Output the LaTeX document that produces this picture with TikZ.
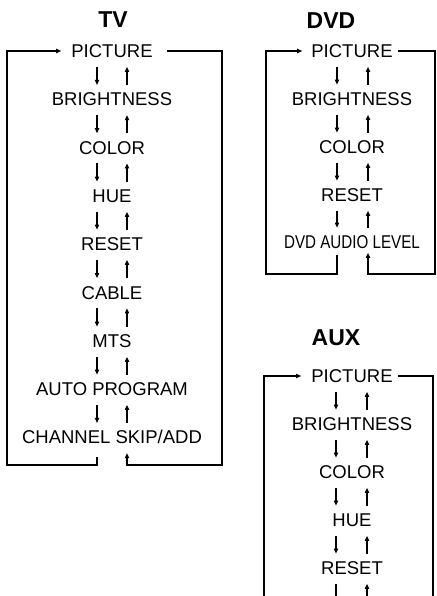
\documentclass[tikz,border=0pt]{standalone}
\usepackage{fontspec}
\setmainfont{Liberation Sans}
\usepackage{graphicx}
\usetikzlibrary{arrows.meta,calc}
\tikzset{
  item/.style={font=\fontsize{18.5}{20}\selectfont, inner sep=0pt, text height=13.3pt, text depth=0pt, anchor=center},
  ttl/.style={font=\fontsize{23}{24}\bfseries\selectfont, inner sep=0pt, text height=16.5pt, text depth=0pt, anchor=center},
  ln/.style={line width=1.1pt, line join=miter},
  arr/.style={ln, -{Triangle[length=5pt,width=4.2pt]}},
}
\begin{document}
\begin{tikzpicture}[x=1pt,y=-1pt]
\useasboundingbox (0,0) rectangle (436,596);
% ---------- TV ----------
\node[ttl] (tvT) at (113,19) {TV};
\node[item] (t1) at (112,51) {PICTURE};
\node[item] (t2) at (112,99.3) {BRIGHTNESS};
\node[item] (t3) at (112,147.6) {COLOR};
\node[item] (t4) at (112,196) {HUE};
\node[item] (t5) at (112,244) {RESET};
\node[item] (t6) at (112,292.5) {CABLE};
\node[item] (t7) at (112,341) {MTS};
\node[item] (t8) at (112,389) {AUTO PROGRAM};
\node[item] (t9) at (112,437.3) {CHANNEL SKIP/ADD};
\foreach \a/\b in {t1/t2,t2/t3,t3/t4,t4/t5,t5/t6,t6/t7,t7/t8,t8/t9}{
  \draw[arr, shorten <=9pt, shorten >=7.5pt] ($(\a.south)+(-15,0)$) -- ($(\b.north)+(-15,0)$);
  \draw[arr, shorten <=7.5pt, shorten >=9pt] ($(\b.north)+(15,0)$) -- ($(\a.south)+(15,0)$);
}
\coordinate (tvBL) at (7,465);
\coordinate (tvBR) at (222,465);
\draw[arr] ($(t9.south)+(-15,13)$) |- (tvBL) |- ($(t1.west)+(-10,0)$);
\draw[arr] ($(t1.east)+(14,0)$) -| (tvBR) -| ($(t9.south)+(15,9)$);
% ---------- DVD ----------
\node[ttl] (dvT) at (331,20) {DVD};
\node[item] (d1) at (352,51) {PICTURE};
\node[item] (d2) at (352,99) {BRIGHTNESS};
\node[item] (d3) at (352,147) {COLOR};
\node[item] (d4) at (352,195) {RESET};
\node[item] (d5) at (352,242) {\scalebox{0.82}[1]{DVD AUDIO LEVEL}};
\foreach \a/\b in {d1/d2,d2/d3,d3/d4,d4/d5}{
  \draw[arr, shorten <=9pt, shorten >=7.5pt] ($(\a.south)+(-15,0)$) -- ($(\b.north)+(-15,0)$);
  \draw[arr, shorten <=7.5pt, shorten >=9pt] ($(\b.north)+(16,0)$) -- ($(\a.south)+(16,0)$);
}
\coordinate (dvBL) at (266,274);
\coordinate (dvBR) at (435,274);
\draw[arr] ($(d5.south)+(-15,6)$) |- (dvBL) |- ($(d1.west)+(-9,0)$);
\draw[arr] ($(d1.east)+(5,0)$) -| (dvBR) -| ($(d5.south)+(16,4)$);
% ---------- AUX ----------
\node[ttl] (axT) at (336,337) {AUX};
\node[item] (a1) at (352,376) {PICTURE};
\node[item] (a2) at (352,424) {BRIGHTNESS};
\node[item] (a3) at (352,472) {COLOR};
\node[item] (a4) at (352,520) {HUE};
\node[item] (a5) at (352,568) {RESET};
\foreach \a/\b in {a1/a2,a2/a3,a3/a4,a4/a5}{
  \draw[arr, shorten <=9pt, shorten >=7.5pt] ($(\a.south)+(-16,0)$) -- ($(\b.north)+(-16,0)$);
  \draw[arr, shorten <=7.5pt, shorten >=9pt] ($(\b.north)+(15,0)$) -- ($(\a.south)+(15,0)$);
}
\coordinate (axBL) at (264,596);
\coordinate (axBR) at (433,596);
\coordinate (axE1) at (336,596);
\coordinate (axE2) at (367,596);
\draw[ln] ($(a5.south)+(-16,9)$) -- (axE1);
\draw[arr] (axE2) -- ($(a5.south)+(15,9)$);
\draw[arr] (axBL) |- ($(a1.west)+(-10,0)$);
\draw[ln] ($(a1.east)+(5,0)$) -| (axBR);
\end{tikzpicture}
\end{document}
